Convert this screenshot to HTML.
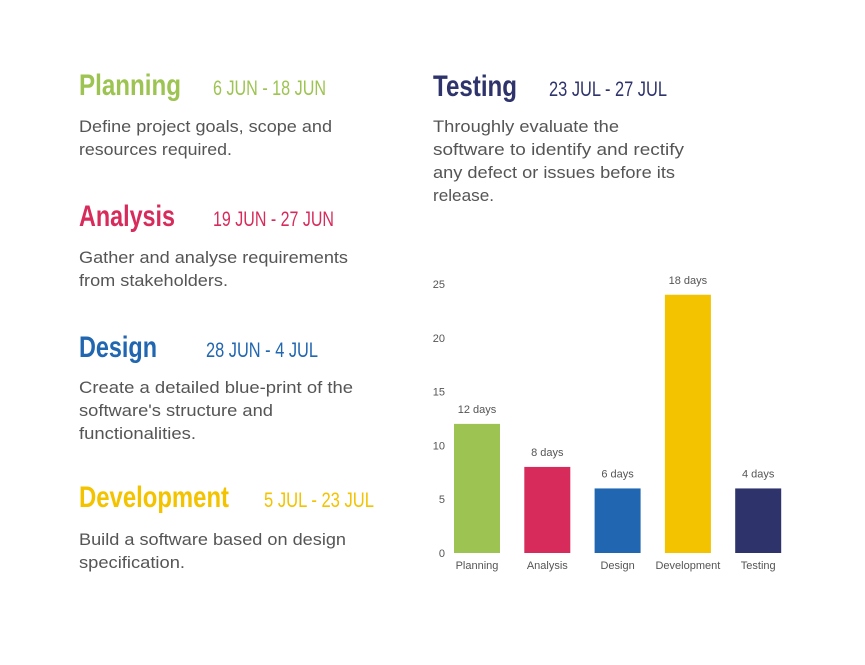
<!DOCTYPE html>
<html><head><meta charset="utf-8"><style>
body{margin:0;background:#fff}
svg{display:block;font-family:"Liberation Sans",sans-serif}
.h{font-weight:bold;font-size:30px}
.d{font-size:21px}
.b{font-size:16.5px;fill:#555}
.t{font-size:11px;fill:#555}
</style></head><body>
<svg id="page" width="865" height="665" viewBox="0 0 865 665">
<g>
<text class="h" x="79" y="95" fill="#9dc452" textLength="102" lengthAdjust="spacingAndGlyphs">Planning</text>
<text class="d" x="213" y="95" fill="#9dc452" textLength="113" lengthAdjust="spacingAndGlyphs">6 JUN - 18 JUN</text>
<text class="b" x="79" y="132" textLength="253" lengthAdjust="spacingAndGlyphs">Define project goals, scope and</text>
<text class="b" x="79" y="155" textLength="153" lengthAdjust="spacingAndGlyphs">resources required.</text>
</g>
<g>
<text class="h" x="79" y="226" fill="#d72c5b" textLength="96" lengthAdjust="spacingAndGlyphs">Analysis</text>
<text class="d" x="213" y="226" fill="#d72c5b" textLength="121" lengthAdjust="spacingAndGlyphs">19 JUN - 27 JUN</text>
<text class="b" x="79" y="263" textLength="269" lengthAdjust="spacingAndGlyphs">Gather and analyse requirements</text>
<text class="b" x="79" y="286" textLength="149" lengthAdjust="spacingAndGlyphs">from stakeholders.</text>
</g>
<g>
<text class="h" x="79" y="357" fill="#2166b0" textLength="78" lengthAdjust="spacingAndGlyphs">Design</text>
<text class="d" x="206" y="357" fill="#2166b0" textLength="112" lengthAdjust="spacingAndGlyphs">28 JUN - 4 JUL</text>
<text class="b" x="79" y="393" textLength="274" lengthAdjust="spacingAndGlyphs">Create a detailed blue-print of the</text>
<text class="b" x="79" y="416" textLength="194" lengthAdjust="spacingAndGlyphs">software's structure and</text>
<text class="b" x="79" y="439" textLength="117" lengthAdjust="spacingAndGlyphs">functionalities.</text>
</g>
<g>
<text class="h" x="79" y="507" fill="#f3c300" textLength="150" lengthAdjust="spacingAndGlyphs">Development</text>
<text class="d" x="264" y="507" fill="#f3c300" textLength="110" lengthAdjust="spacingAndGlyphs">5 JUL - 23 JUL</text>
<text class="b" x="79" y="545" textLength="267" lengthAdjust="spacingAndGlyphs">Build a software based on design</text>
<text class="b" x="79" y="568" textLength="106" lengthAdjust="spacingAndGlyphs">specification.</text>
</g>
<g>
<text class="h" x="433" y="96" fill="#2e336b" textLength="84" lengthAdjust="spacingAndGlyphs">Testing</text>
<text class="d" x="549" y="96" fill="#2e336b" textLength="118" lengthAdjust="spacingAndGlyphs">23 JUL - 27 JUL</text>
<text class="b" x="433" y="132" textLength="186" lengthAdjust="spacingAndGlyphs">Throughly evaluate the</text>
<text class="b" x="433" y="155" textLength="251" lengthAdjust="spacingAndGlyphs">software to identify and rectify</text>
<text class="b" x="433" y="178" textLength="242" lengthAdjust="spacingAndGlyphs">any defect or issues before its</text>
<text class="b" x="433" y="201" textLength="61" lengthAdjust="spacingAndGlyphs">release.</text>
</g>
<g id="chart"></g>
</svg>
<script>
const categories=["Planning","Analysis","Design","Development","Testing"];
const values=[12,8,6,24,6];
const valueLabels=["12 days","8 days","6 days","18 days","4 days"];
const colors=["#9dc452","#d72c5b","#2166b0","#f3c300","#2e336b"];
const yTicks=[0,5,10,15,20,25];
const NS="http://www.w3.org/2000/svg";
const chart=document.getElementById('chart');
const y0=553,y1=284,yMax=25;
function yScale(v){return y0-(y0-y1)*v/yMax;}
function xCenter(i){return 477+i*70.3;}
const bw=46;
function mk(tag,attrs,text){const e=document.createElementNS(NS,tag);for(const k in attrs)e.setAttribute(k,attrs[k]);if(text!=null)e.textContent=text;chart.appendChild(e);return e;}
yTicks.forEach(t=>{
  const e=mk('text',{x:445,y:yScale(t)+4,'text-anchor':'end',class:'t'},t);
  
  
});
categories.forEach((c,i)=>{
  const cx=xCenter(i),top=yScale(values[i]);
  const r=mk('rect',{x:cx-bw/2,y:top,width:bw,height:y0-top,fill:colors[i]});
  
  
  const l=mk('text',{x:cx,y:top-11,'text-anchor':'middle',class:'t'},valueLabels[i]);
  
  
  const x=mk('text',{x:cx,y:569,'text-anchor':'middle',class:'t'},c);
  
  
});
</script>
</body></html>
